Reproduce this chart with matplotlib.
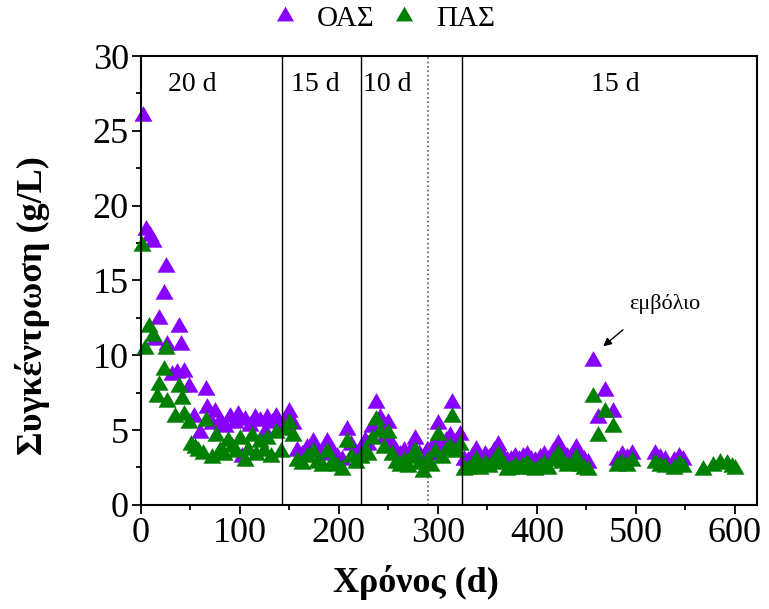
import matplotlib
matplotlib.use('Agg')
import matplotlib.pyplot as plt

plt.rcParams['font.family'] = ['Liberation Serif', 'DejaVu Serif']

# OAS (purple)
days_oas = [2, 5, 9, 12, 14, 18, 23, 26, 27, 32, 37, 39, 41, 44, 49, 54, 60, 66, 67, 72,
            75, 80, 85, 90, 95, 98, 102, 105, 110, 115, 120, 125, 128, 133, 137, 142, 146, 150, 154,
            158, 163, 168, 174, 178, 183, 188, 193, 198, 203, 208, 212, 217, 222, 226, 230, 234, 238,
            242, 246, 250, 254, 258, 262, 266, 270, 274, 277, 281, 285, 289, 293, 297, 300, 304, 308,
            312, 314, 318, 322, 326,
            330, 335, 339, 343, 348, 352, 357, 361, 365, 370, 374, 378, 382, 386, 390, 394, 398, 403,
            407, 411, 416, 421, 425, 430, 435, 440, 444, 448, 452,
            457, 462, 469, 477,
            481, 486, 491, 496, 519, 524, 529, 538, 544, 548]
oas = [26.0, 18.4, 18.0, 17.6, 11.0, 12.4, 14.1, 15.9, 10.7, 8.7, 8.8, 11.9, 10.7, 8.9, 7.9, 5.9, 4.8, 7.7, 6.5, 5.4,
       6.2, 5.6, 5.2, 5.9, 5.5, 6.0, 3.2, 5.7, 5.3, 5.8, 5.6, 4.9, 5.8, 5.5, 5.9, 5.2, 5.7, 6.2, 5.4,
       3.6, 3.3, 3.8, 4.2, 3.5, 3.3, 4.2, 3.6, 3.2, 3.0, 5.0, 4.0, 3.4, 3.8, 4.3, 4.0, 5.2, 6.8,
       5.8, 4.5, 5.5, 4.0, 3.5, 3.3, 3.6, 3.2, 3.8, 4.4, 3.4, 3.0, 3.6, 3.3, 4.2, 5.4, 3.8, 4.3,
       4.6, 6.8, 4.2, 4.7, 3.0,
       2.9, 3.2, 3.7, 3.0, 3.3, 3.1, 3.6, 4.0, 3.3, 2.9, 3.0, 3.2, 3.0, 3.2, 3.3, 3.0, 2.9, 3.1,
       3.3, 3.0, 3.5, 4.1, 3.4, 3.2, 3.3, 3.8, 3.2, 3.0, 2.8,
       9.6, 5.8, 7.6, 6.2,
       3.0, 3.3, 3.1, 3.4, 3.4, 3.1, 3.0, 2.9, 3.2, 3.0]

# PAS (green)
days_pas = [1, 4, 8, 12, 16, 18, 23, 26, 27, 35, 39, 42, 44, 49, 51, 55, 58, 63, 66, 72,
            76, 80, 84, 88, 92, 96, 100, 105, 108, 112, 116, 120, 124, 128, 132, 137, 142, 146, 150, 154,
            158, 163, 168, 174, 178, 183, 188, 193, 198, 203, 208, 212, 217, 222, 226, 230, 234, 238,
            242, 246, 250, 254, 258, 262, 266, 270, 274, 277, 281, 285, 289, 293, 297, 300, 304, 308,
            312, 314, 318, 322, 326,
            330, 335, 339, 343, 348, 352, 357, 361, 365, 370, 374, 378, 382, 386, 390, 394, 398, 403,
            407, 411, 416, 421, 425, 430, 435, 440, 444, 448, 452,
            457, 462, 469, 477,
            481, 486, 491, 496, 519, 524, 529, 538, 544, 548, 568, 578, 585, 592, 597, 600]
pas = [17.3, 10.4, 11.9, 11.3, 7.2, 8.0, 9.0, 10.4, 6.9, 5.9, 7.9, 7.1, 6.0, 5.5, 4.0, 3.8, 3.6, 3.4, 5.6, 3.1,
       4.6, 3.6, 3.3, 4.3, 3.9, 3.5, 4.4, 2.9, 3.7, 4.6, 3.3, 4.2, 3.6, 4.4, 3.2, 4.8, 3.5, 5.0, 5.5, 4.6,
       2.9, 2.7, 3.2, 3.5, 2.8, 2.6, 3.5, 2.8, 2.6, 2.3, 4.2, 3.2, 2.8, 3.1, 3.6, 3.3, 4.4, 5.7,
       4.9, 3.8, 4.8, 3.3, 2.8, 2.6, 2.9, 2.5, 3.1, 3.6, 2.7, 2.2, 2.9, 2.6, 3.5, 4.7, 3.1, 3.6,
       3.9, 5.9, 3.5, 4.0, 2.3,
       2.4, 2.6, 3.0, 2.4, 2.7, 2.5, 2.9, 3.3, 2.7, 2.3, 2.4, 2.6, 2.4, 2.6, 2.7, 2.4, 2.3, 2.5,
       2.7, 2.4, 2.9, 3.4, 2.8, 2.6, 2.7, 3.1, 2.6, 2.4, 2.3,
       7.2, 4.6, 6.2, 5.2,
       2.6, 2.8, 2.6, 2.9, 2.8, 2.6, 2.5, 2.4, 2.7, 2.5, 2.3, 2.6, 2.8, 2.7, 2.5, 2.4]

# period boundaries and labels
bounds = [143, 222, 324]
bound_dotted = 290
period_x = [52, 176, 249, 479]
period_lbl = ['20 d', '15 d', '10 d', '15 d']

# equilateral triangle marker
tri = [(-1, -0.577), (1, -0.577), (0, 1.155), (-1, -0.577)]

fig = plt.figure(figsize=(7.69, 6.09), dpi=100)
ax = fig.add_axes([0.183, 0.171, 0.801, 0.737])

ax.plot(days_oas, oas, ls='none', marker=tri, ms=15, mew=0, color='#8800ff', label='ΟΑΣ', clip_on=False)
ax.plot(days_pas, pas, ls='none', marker=tri, ms=15, mew=0, color='#007f00', label='ΠΑΣ', clip_on=False)

for b in bounds:
    ax.axvline(b, color='black', lw=1)
ax.axvline(bound_dotted, color='#555555', lw=1.2, ls=':')

for x, t in zip(period_x, period_lbl):
    ax.text(x, 28.1, t, fontsize=20, ha='center', va='center')

ax.text(529, 13.4, 'εμβόλιο', fontsize=16, ha='center', va='center')
ax.annotate('', xy=(467, 10.6), xytext=(487, 11.7),
            arrowprops=dict(arrowstyle='-|>', color='black', lw=1, shrinkA=0, shrinkB=0,
                            mutation_scale=12))

ax.set_xlim(0, 622)
ax.set_ylim(0, 30)
ax.set_xticks([0, 100, 200, 300, 400, 500, 600])
ax.set_xticks(range(50, 650, 100), minor=True)
ax.set_yticks([0, 5, 10, 15, 20, 25, 30])
ax.set_yticks([2.5, 7.5, 12.5, 17.5, 22.5, 27.5], minor=True)
ax.tick_params(which='major', direction='out', length=6.5, width=1.3, labelsize=26, pad=2)
ax.tick_params(which='minor', direction='out', length=3.5, width=1.3)
for s in ax.spines.values():
    s.set_linewidth(1.5)

ax.set_xlabel('Χρόνος (d)', fontsize=26, fontweight='bold')
ax.set_ylabel('Συγκέντρωση (g/L)', fontsize=26, fontweight='bold')
ax.xaxis.set_label_coords(0.446, -0.134)
ax.yaxis.set_label_coords(-0.148, 0.445)

ax.legend(loc='center', bbox_to_anchor=(0.393, 1.082), ncol=2, frameon=False,
          fontsize=21, handlelength=1.0, handletextpad=0.6, columnspacing=0.5, markerscale=0.95)

fig.savefig('out.png', dpi=100)
